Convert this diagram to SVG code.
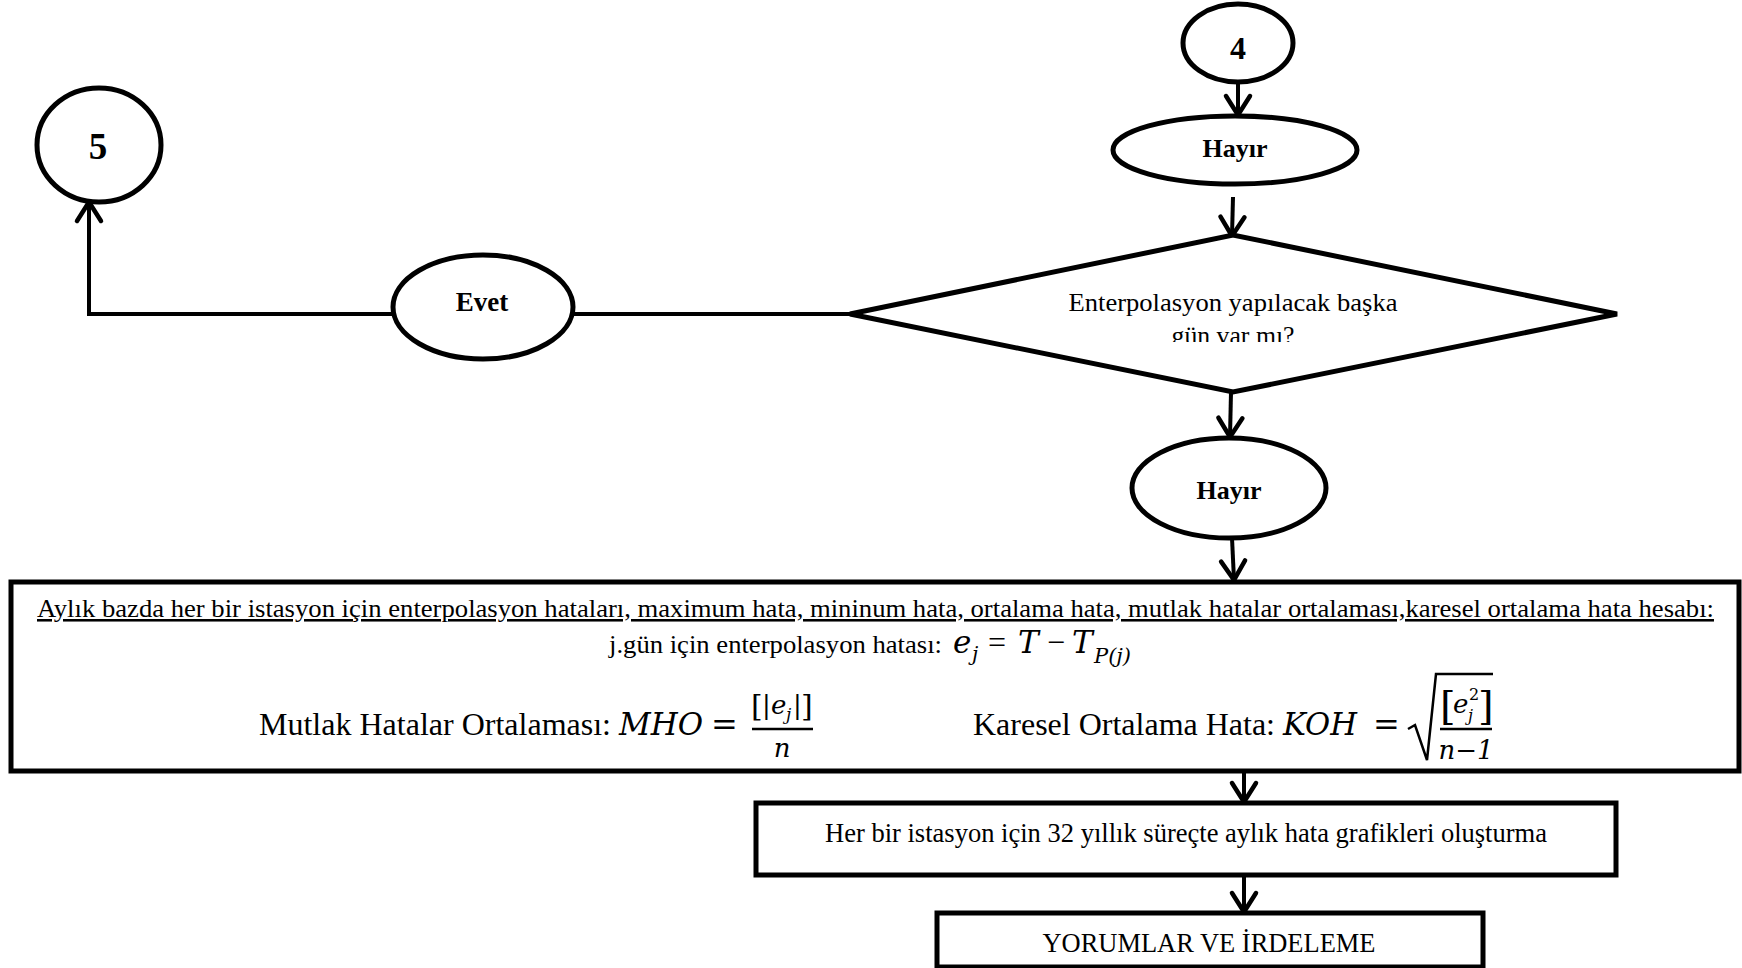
<svg xmlns="http://www.w3.org/2000/svg" width="1742" height="968" viewBox="0 0 1742 968">
<style>
.shape{fill:#fff;stroke:#000;stroke-width:5}
.conn{fill:none;stroke:#000;stroke-width:4}
.bar{fill:none;stroke:#000;stroke-width:2.5}
.lbl{font-family:"Liberation Serif","Times New Roman",serif;font-weight:bold;fill:#000;text-anchor:middle}
.txt{font-family:"Liberation Serif","Times New Roman",serif;fill:#000}
.mid{text-anchor:middle}
.mi{font-family:"DejaVu Serif",serif;font-style:italic;fill:#000}
.mn{font-family:"DejaVu Serif",serif;fill:#000}
.op{font-family:"Liberation Serif","Times New Roman",serif;fill:#000}
</style>
<defs>
<marker id="arr" markerUnits="userSpaceOnUse" markerWidth="30" markerHeight="30" refX="20" refY="12" orient="auto" overflow="visible">
<path d="M1,0 L20,12 L1,24" fill="none" stroke="#000" stroke-width="4.5" stroke-linecap="round"/>
</marker>
<clipPath id="dclip"><rect x="850" y="200" width="770" height="142"/></clipPath>
</defs>
<rect width="1742" height="968" fill="#fff"/>

<g id="connectors">
<line class="conn" x1="1238" y1="83" x2="1238" y2="115" marker-end="url(#arr)"/>
<line class="conn" x1="1233" y1="197" x2="1232" y2="236" marker-end="url(#arr)"/>
<line class="conn" x1="1231" y1="392" x2="1230" y2="437" marker-end="url(#arr)"/>
<line class="conn" x1="1232" y1="538" x2="1234" y2="580" marker-end="url(#arr)"/>
<line class="conn" x1="1244" y1="772" x2="1244" y2="802" marker-end="url(#arr)"/>
<line class="conn" x1="1244" y1="876" x2="1244" y2="912" marker-end="url(#arr)"/>
<line class="conn" x1="850" y1="314" x2="573" y2="314"/>
<polyline class="conn" points="393,314 89,314 89,202" marker-end="url(#arr)"/>
</g>

<g id="node-5">
<ellipse class="shape" cx="99" cy="145" rx="62" ry="57"/>
<text class="lbl" x="98" y="159" font-size="37">5</text>
</g>

<g id="node-4">
<ellipse class="shape" cx="1238" cy="43" rx="55" ry="39"/>
<text class="lbl" x="1238" y="59" font-size="32">4</text>
</g>

<g id="node-hayir1">
<ellipse class="shape" cx="1235" cy="150" rx="122" ry="34"/>
<text class="lbl" x="1235" y="157" font-size="26">Hayır</text>
</g>

<g id="node-decision">
<polygon class="shape" points="850,314 1233,235 1617,314 1233,392"/>
<text class="txt mid" x="1233" y="311" font-size="26" textLength="329" lengthAdjust="spacingAndGlyphs">Enterpolasyon yapılacak başka</text>
<text class="txt mid" x="1233" y="344" font-size="26" textLength="123" lengthAdjust="spacingAndGlyphs" clip-path="url(#dclip)">gün var mı?</text>
</g>

<g id="node-evet">
<ellipse class="shape" cx="483" cy="307" rx="90" ry="52"/>
<text class="lbl" x="482" y="311" font-size="27">Evet</text>
</g>

<g id="node-hayir2">
<ellipse class="shape" cx="1229" cy="488" rx="97" ry="50"/>
<text class="lbl" x="1229" y="499" font-size="26">Hayır</text>
</g>

<g id="node-calc">
<rect class="shape" x="11" y="582" width="1728" height="189"/>
<text class="txt" x="37" y="617" font-size="25.5" textLength="1677" lengthAdjust="spacingAndGlyphs" text-decoration="underline">Aylık bazda her bir istasyon için enterpolasyon hataları, maximum hata, mininum hata, ortalama hata, mutlak hatalar ortalaması,karesel ortalama hata hesabı:</text>
<text class="txt" x="609" y="653" font-size="26" textLength="333" lengthAdjust="spacingAndGlyphs">j.gün için enterpolasyon hatası:</text>
<text class="mi" x="953" y="653" font-size="31">e</text>
<text class="mi" x="972" y="661" font-size="20">j</text>
<text class="op" x="988" y="653" font-size="32">=</text>
<text class="mi" x="1018" y="653" font-size="31">T</text>
<text class="op" x="1047" y="653" font-size="32">−</text>
<text class="mi" x="1072" y="653" font-size="31">T</text>
<text class="mi" x="1094" y="663" font-size="21">P<tspan class="mn">(</tspan>j<tspan class="mn">)</tspan></text>

<text class="txt" x="259" y="735" font-size="32" textLength="352" lengthAdjust="spacingAndGlyphs">Mutlak Hatalar Ortalaması:</text>
<text class="mi" x="619" y="735" font-size="32" textLength="84" lengthAdjust="spacingAndGlyphs">MHO</text>
<text class="mn" x="711" y="735" font-size="32">=</text>
<text class="mn" x="751" y="716" font-size="30">[</text>
<text class="mn" x="762" y="714" font-size="26">|</text>
<text class="mi" x="771" y="714" font-size="26">e</text>
<text class="mi" x="786" y="720" font-size="17">j</text>
<text class="mn" x="793" y="714" font-size="26">|</text>
<text class="mn" x="801" y="716" font-size="30">]</text>
<line class="bar" x1="752" y1="729" x2="813" y2="729"/>
<text class="mi mid" x="782" y="757" font-size="26">n</text>

<text class="txt" x="973" y="735" font-size="32" textLength="302" lengthAdjust="spacingAndGlyphs">Karesel Ortalama Hata:</text>
<text class="mi" x="1283" y="735" font-size="32" textLength="74" lengthAdjust="spacingAndGlyphs">KOH</text>
<text class="mn" x="1373" y="735" font-size="32">=</text>
<path class="bar" d="M1408,729 L1415,725 L1427,760 L1436,674 L1493,674"/>
<text class="mn" x="1440" y="719" font-size="40">[</text>
<text class="mi" x="1453" y="713" font-size="26">e</text>
<text class="mn" x="1469" y="700" font-size="16">2</text>
<text class="mi" x="1468" y="721" font-size="16">j</text>
<text class="mn" x="1478" y="719" font-size="40">]</text>
<line class="bar" x1="1440" y1="729" x2="1492" y2="729"/>
<text class="mi mid" x="1466" y="759" font-size="26">n<tspan class="mn">−1</tspan></text>
</g>

<g id="node-graphs">
<rect class="shape" x="756" y="803" width="860" height="72"/>
<text class="txt mid" x="1186" y="842" font-size="26.5" textLength="722" lengthAdjust="spacingAndGlyphs">Her bir istasyon için 32 yıllık süreçte aylık hata grafikleri oluşturma</text>
</g>

<g id="node-comments">
<rect class="shape" x="937" y="913" width="546" height="54"/>
<text class="txt mid" x="1209" y="952" font-size="26.5" textLength="333" lengthAdjust="spacingAndGlyphs">YORUMLAR VE İRDELEME</text>
</g>
</svg>
